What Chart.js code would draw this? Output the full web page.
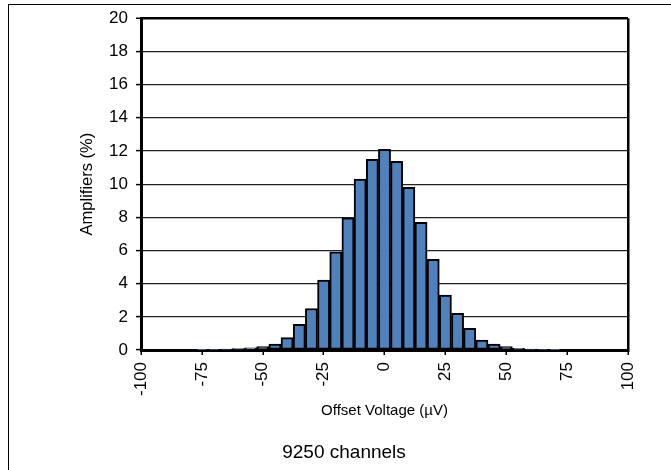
<!DOCTYPE html>
<html>
<head>
<meta charset="utf-8">
<script src="https://cdn.jsdelivr.net/npm/chart.js@4.4.1/dist/chart.umd.min.js"></script>
<style>
  body { margin: 0; background: #fff; }
  #wrap { position: relative; width: 671px; height: 470px; }
  #frame { position: absolute; left: 8px; top: 4px; right: 0; bottom: 0; border-top: 1.5px solid #000; border-left: 1.5px solid #000; }
  #chart { position: absolute; left: 0; top: 0; }
</style>
</head>
<body>
<div id="wrap">
  <div id="frame"></div>
  <canvas id="chart" width="671" height="470"></canvas>
</div>
<script>
// bin centres (uV) and share of amplifiers (%)
var binCenters = [-100, -95, -90, -85, -80, -75, -70, -65, -60, -55, -50, -45, -40, -35, -30, -25, -20, -15, -10, -5,
                  0, 5, 10, 15, 20, 25, 30, 35, 40, 45, 50, 55, 60, 65, 70, 75, 80, 85, 90, 95, 100];
var amplifiers = [0, 0, 0, 0, 0, 0.01, 0.03, 0.05, 0.08, 0.13, 0.2, 0.36, 0.75, 1.55, 2.5, 4.22, 5.92, 7.97, 10.3, 11.5,
                  12.1, 11.37, 9.8, 7.7, 5.46, 3.31, 2.21, 1.3, 0.6, 0.36, 0.2, 0.1, 0.05, 0.02, 0.01, 0, 0, 0, 0, 0, 0];
var xTicks = [-100, 100, 25];  // min, max, step
var yTicks = [0, 20, 2];

Chart.defaults.font.family = 'Arial, "Liberation Sans", sans-serif';
Chart.defaults.color = '#000';

var points = [];
for (var i = 0; i < binCenters.length; i++) {
    points.push({x: binCenters[i], y: amplifiers[i]});
}

new Chart(document.getElementById('chart'), {
    type: 'bar',
    data: {
        datasets: [{
            data: points,
            backgroundColor: '#4f81bd',
            borderColor: '#000',
            borderWidth: 2,
            borderSkipped: false,
            categoryPercentage: 1,
            barPercentage: 1
        }]
    },
    options: {
        responsive: false,
        animation: false,
        devicePixelRatio: 1,
        layout: { padding: { left: 60, right: 43, top: 18, bottom: 0 } },
        plugins: {
            legend: { display: false },
            tooltip: { enabled: false },
            title: {
                display: true,
                position: 'bottom',
                text: '9250 channels',
                color: '#000',
                font: { size: 19, weight: 'normal' },
                padding: { top: 0, bottom: 6 }
            }
        },
        scales: {
            x: {
                type: 'linear',
                offset: false,
                min: xTicks[0],
                max: xTicks[1],
                afterFit: function (scale) { scale.height = 91.2; },
                ticks: {
                    stepSize: xTicks[2],
                    minRotation: 90,
                    maxRotation: 90,
                    autoSkip: false,
                    padding: 7,
                    font: { size: 17 },
                    color: '#000'
                },
                grid: {
                    offset: false,
                    drawOnChartArea: true,
                    color: function (ctx) { return ctx.tick && ctx.tick.value === xTicks[1] ? '#000' : 'rgba(0,0,0,0)'; },
                    lineWidth: 2.5,
                    tickColor: '#000',
                    tickWidth: 1.5,
                    tickLength: 5
                },
                border: { color: '#000', width: 3 },
                title: {
                    display: true,
                    text: 'Offset Voltage (µV)',
                    color: '#000',
                    font: { size: 15 },
                    padding: { top: 0, bottom: 21 }
                }
            },
            y: {
                min: yTicks[0],
                max: yTicks[1],
                afterFit: function (scale) { scale.width = 81; },
                ticks: {
                    stepSize: yTicks[2],
                    padding: 8,
                    font: { size: 17 },
                    color: '#000'
                },
                grid: {
                    color: function (ctx) { return ctx.tick && ctx.tick.value === yTicks[1] ? '#000' : '#222'; },
                    lineWidth: function (ctx) { return ctx.tick && ctx.tick.value === yTicks[1] ? 2.5 : 1.2; },
                    tickColor: '#000',
                    tickWidth: 1.5,
                    tickLength: 5
                },
                border: { color: '#000', width: 3 },
                title: {
                    display: true,
                    text: 'Amplifiers (%)',
                    color: '#000',
                    font: { size: 16.5 },
                    padding: { top: 18, bottom: 0 }
                }
            }
        }
    }
});
</script>
</body>
</html>
